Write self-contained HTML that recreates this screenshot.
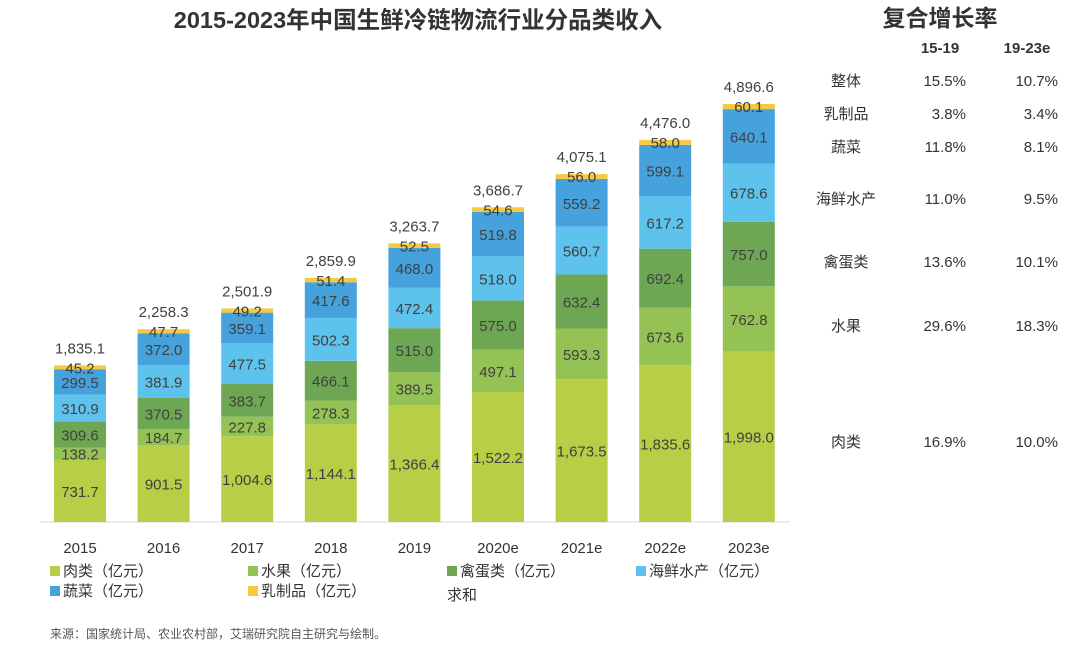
<!DOCTYPE html>
<html><head><meta charset="utf-8"><style>
body{margin:0;width:1080px;height:647px;background:#fff;font-family:"Liberation Sans","Noto Sans CJK SC",sans-serif;overflow:hidden}
svg text{font-family:"Liberation Sans","Noto Sans CJK SC",sans-serif}
</style></head><body>
<svg id="c" width="1080" height="647">
<text x="418" y="28" text-anchor="middle" font-size="23.5" font-weight="bold" fill="#333">2015-2023年中国生鲜冷链物流行业分品类收入</text>
<text x="940" y="26" text-anchor="middle" font-size="23" font-weight="bold" fill="#333">复合增长率</text>
<text x="940" y="53" text-anchor="middle" font-size="15" font-weight="bold" fill="#333">15-19</text>
<text x="1027" y="53" text-anchor="middle" font-size="15" font-weight="bold" fill="#333">19-23e</text>
<line x1="40" y1="522" x2="790" y2="522" stroke="#d9d9d9"/>
<text x="50" y="638" font-size="12" fill="#555">来源：国家统计局、农业农村部，艾瑞研究院自主研究与绘制。</text>
</svg>
<script>
const years=["2015","2016","2017","2018","2019","2020e","2021e","2022e","2023e"];
const meat=[731.7,901.5,1004.6,1144.1,1366.4,1522.2,1673.5,1835.6,1998.0];
const fruit=[138.2,184.7,227.8,278.3,389.5,497.1,593.3,673.6,762.8];
const egg=[309.6,370.5,383.7,466.1,515.0,575.0,632.4,692.4,757.0];
const seafood=[310.9,381.9,477.5,502.3,472.4,518.0,560.7,617.2,678.6];
const veg=[299.5,372.0,359.1,417.6,468.0,519.8,559.2,599.1,640.1];
const dairy=[45.2,47.7,49.2,51.4,52.5,54.6,56.0,58.0,60.1];
const totals=[1835.1,2258.3,2501.9,2859.9,3263.7,3686.7,4075.1,4476.0,4896.6];
const seriesNames=["肉类（亿元）","水果（亿元）","禽蛋类（亿元）","海鲜水产（亿元）","蔬菜（亿元）","乳制品（亿元）"];
const cagrLabels=["整体","乳制品","蔬菜","海鲜水产","禽蛋类","水果","肉类"];
const cagr1519=["15.5%","3.8%","11.8%","11.0%","13.6%","29.6%","16.9%"];
const cagr1923=["10.7%","3.4%","8.1%","9.5%","10.1%","18.3%","10.0%"];
const cagrY=[80,113,146,198,261,325,441];
const NS="http://www.w3.org/2000/svg",svg=document.getElementById('c');
function el(t,a,p){const e=document.createElementNS(NS,t);for(const k in a)e.setAttribute(k,a[k]);(p||svg).appendChild(e);return e;}
const base=522,scale=418/4896.6;
const y=v=>base-v*scale;
const xc=i=>80+i*83.6;
const bw=52;
const series=[meat,fruit,egg,seafood,veg,dairy];
const colors=["#b6cf47","#94c255","#6ea753","#5ec3ec","#45a2dc","#f5c940"];
const fmt=v=>v.toLocaleString('en-US',{minimumFractionDigits:1,maximumFractionDigits:1});
years.forEach((yr,i)=>{
  let acc=0;
  series.forEach((s,k)=>{
    const v=s[i];const y0=y(acc),y1=y(acc+v);
    const r=el('rect',{x:xc(i)-bw/2,y:y1,width:bw,height:y0-y1,fill:colors[k]});
    
    
    const t=el('text',{x:xc(i),y:k==5?y1+8:(y0+y1)/2+6,'text-anchor':'middle','font-size':15,fill:'#404040'});
    t.textContent=fmt(v);
    
    
    acc+=v;
  });
  const tt=el('text',{x:xc(i),y:y(totals[i])-12,'text-anchor':'middle','font-size':15,fill:'#404040'});
  tt.textContent=fmt(totals[i]);
  
  
  const xl=el('text',{x:xc(i),y:553,'text-anchor':'middle','font-size':15,fill:'#333'});
  xl.textContent=yr;
  
  
});
const legX=[50,248,447,636],legY=[576,596];
seriesNames.forEach((n,k)=>{
  const lx=legX[k%4],ly=legY[Math.floor(k/4)];
  const g=el('g',{});
  
  
  el('rect',{x:lx,y:ly-10,width:10,height:10,fill:colors[k]},g);
  const t=el('text',{x:lx+13,y:ly,'font-size':15,fill:'#333'},g);t.textContent=n;
});
const st=el('text',{x:447,y:600,'font-size':15,fill:'#333'});st.textContent="求和";


cagrLabels.forEach((l,i)=>{
  const a=el('text',{x:846,y:cagrY[i]+6,'text-anchor':'middle','font-size':15,fill:'#333'});a.textContent=l;
  
  
  const b=el('text',{x:966,y:cagrY[i]+6,'text-anchor':'end','font-size':15,fill:'#333'});b.textContent=cagr1519[i];
  
  
  const c=el('text',{x:1058,y:cagrY[i]+6,'text-anchor':'end','font-size':15,fill:'#333'});c.textContent=cagr1923[i];
  
  
});
</script>
</body></html>
